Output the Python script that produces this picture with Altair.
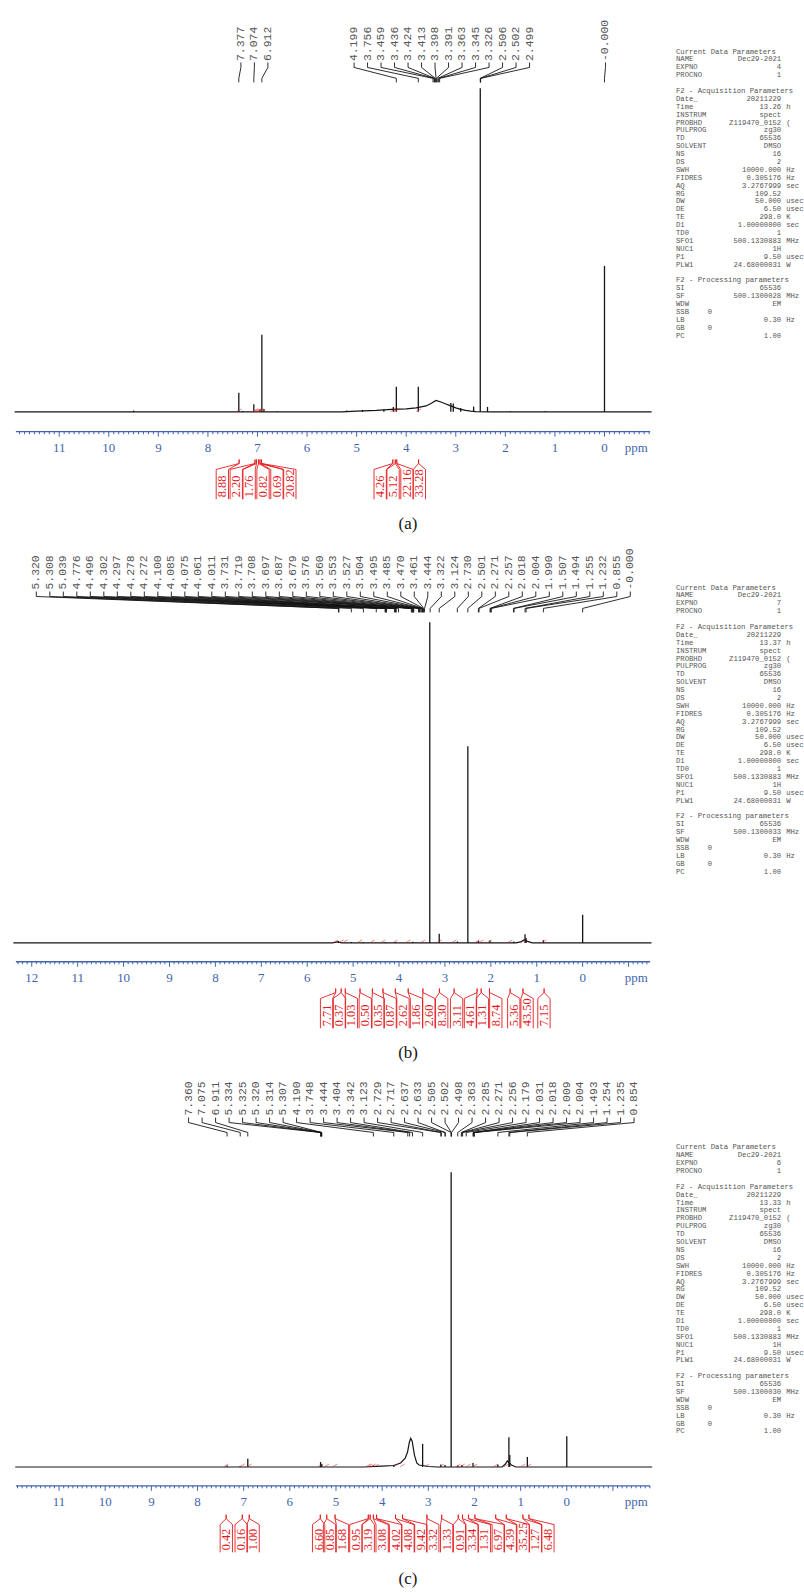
import math
import altair as alt
import pandas as pd

# ---------------------------------------------------------------------------
# Spectrum (a)
# ---------------------------------------------------------------------------
A_SHIFTS = ["7.377", "7.074", "6.912", "4.199", "3.756", "3.459", "3.436", "3.424",
            "3.413", "3.398", "3.391", "3.363", "3.345", "3.326", "2.506", "2.502",
            "2.499", "-0.000"]
A_PEAK_PPM = [9.50, 7.377, 7.30, 7.074, 6.95, 6.912, 6.87, 6.60, 5.20, 4.88, 4.45,
              4.26, 4.199, 3.756, 3.10, 3.05, 2.90, 2.64, 2.506, 2.36, 1.90, 1.20, 0.000]
A_PEAK_HEIGHT = [1.3, 19.3, 1.0, 7.7, 2.5, 77.7, 3.0, 1.0, 1.5, 2.0, 2.5,
                 5.0, 25.3, 25.3, 9.0, 8.5, 4.0, 5.3, 326.0, 5.0, 1.0, 1.0, 147.0]
A_BASE_PPM = [11.9, 5.3, 5.0, 4.6, 4.3, 4.0, 3.8, 3.6, 3.5, 3.4, 3.3, 3.2, 3.1,
              3.0, 2.9, 2.8, 2.7, 2.6, 2.3, -0.95]
A_BASE_HEIGHT = [0, 0, 0.8, 1.5, 2.5, 3.0, 4.0, 6.0, 8.5, 11.5, 10.0, 8.0, 6.0,
                 4.0, 2.5, 1.5, 0.8, 0.3, 0, 0]
A_INTEGRALS = ["8.88", "2.20", "1.76", "0.82", "0.69", "20.82", "4.26", "5.12",
               "22.16", "33.28"]
A_INTEGRAL_PPM = [7.37, 7.05, 7.02, 6.98, 6.95, 6.92, 4.27, 4.22, 4.19, 3.75]

# ---------------------------------------------------------------------------
# Spectrum (b)
# ---------------------------------------------------------------------------
B_SHIFTS = ["5.320", "5.308", "5.039", "4.776", "4.496", "4.302", "4.297", "4.278",
            "4.272", "4.100", "4.085", "4.075", "4.061", "4.011", "3.731", "3.719",
            "3.708", "3.697", "3.687", "3.679", "3.576", "3.560", "3.553", "3.527",
            "3.504", "3.495", "3.485", "3.470", "3.461", "3.444", "3.322", "3.124",
            "2.730", "2.501", "2.271", "2.257", "2.018", "2.004", "1.990", "1.507",
            "1.494", "1.255", "1.232", "0.855", "-0.000"]
B_PEAK_PPM = [5.32, 5.04, 4.78, 4.30, 4.08, 3.70, 3.33, 3.124, 2.73, 2.501, 2.27,
              2.02, 1.50, 1.255, 1.232, 0.855, 0.000]
B_PEAK_HEIGHT = [2.0, 0.8, 0.8, 1.0, 1.0, 1.2, 323.0, 9.3, 1.5, 198.0, 2.0,
                 2.5, 1.5, 8.7, 5.0, 2.7, 28.3]
B_BASE_PPM = [12.4, 5.45, 5.35, 5.25, 1.45, 1.35, 1.28, 1.2, 1.1, -1.5]
B_BASE_HEIGHT = [0, 0, 1.0, 0, 0, 1.0, 3.0, 1.5, 0, 0]
B_INTEGRALS = ["7.71", "0.37", "1.03", "0.50", "0.35", "0.87", "2.62", "1.86",
               "2.60", "8.30", "3.11", "4.61", "1.31", "8.74", "5.36", "43.50", "7.15"]
B_INTEGRAL_PPM = [5.38, 5.26, 5.17, 4.85, 4.58, 4.35, 4.08, 3.80, 3.48, 3.12,
                  2.80, 2.30, 2.21, 2.03, 1.58, 1.30, 0.84]

# ---------------------------------------------------------------------------
# Spectrum (c)
# ---------------------------------------------------------------------------
C_SHIFTS = ["7.360", "7.075", "6.911", "5.334", "5.325", "5.320", "5.314", "5.307",
            "4.190", "3.748", "3.444", "3.404", "3.342", "3.123", "2.729", "2.717",
            "2.637", "2.633", "2.505", "2.502", "2.498", "2.363", "2.285", "2.271",
            "2.256", "2.179", "2.031", "2.018", "2.009", "2.004", "1.493", "1.254",
            "1.235", "0.854"]
C_PEAK_PPM = [7.360, 7.075, 6.911, 5.334, 5.307, 4.190, 3.748, 3.123, 2.729, 2.637,
              2.505, 2.363, 2.271, 2.031, 1.493, 1.254, 1.235, 0.854, 0.000]
C_PEAK_HEIGHT = [1.5, 1.0, 8.3, 5.0, 3.0, 1.5, 2.0, 23.3, 2.5, 2.0,
                 297.0, 1.5, 2.0, 4.0, 2.5, 30.0, 12.0, 10.0, 31.0]
C_BASE_PPM = [11.95, 4.4, 4.0, 3.75, 3.6, 3.5, 3.45, 3.41, 3.38, 3.35, 3.3, 3.25,
              3.2, 3.0, 2.8, 1.4, 1.33, 1.29, 1.2, 1.1, -1.85]
C_BASE_HEIGHT = [0, 0, 0.8, 1.5, 4.0, 9.0, 15.0, 25.0, 29.0, 26.0, 12.0, 4.0,
                 2.0, 0.5, 0, 0, 3.0, 6.0, 2.0, 0, 0]
C_INTEGRALS = ["0.42", "0.16", "1.00", "6.60", "0.85", "1.68", "0.95", "3.19",
               "3.08", "4.02", "4.08", "9.42", "3.32", "1.33", "0.91", "3.34",
               "1.31", "6.97", "4.39", "35.25", "1.27", "6.48"]
C_INTEGRAL_PPM = [7.38, 7.03, 6.88, 5.34, 5.20, 5.02, 4.30, 4.26, 4.19, 4.12, 3.71,
                  3.56, 3.03, 2.71, 2.35, 2.26, 2.13, 1.99, 1.54, 1.31, 0.95, 0.82]

# Acquisition / processing parameter block (per experiment values differ)
PARAM_ROWS = [
    ("Current Data Parameters", "", "", ""),
    ("NAME", "", "Dec29-2021", ""),
    ("EXPNO", "", "{expno}", ""),
    ("PROCNO", "", "1", ""),
    None,
    ("F2 - Acquisition Parameters", "", "", ""),
    ("Date_", "", "20211229", ""),
    ("Time", "", "{time}", "h"),
    ("INSTRUM", "", "spect", ""),
    ("PROBHD", "", "Z119470_0152", "("),
    ("PULPROG", "", "zg30", ""),
    ("TD", "", "65536", ""),
    ("SOLVENT", "", "DMSO", ""),
    ("NS", "", "16", ""),
    ("DS", "", "2", ""),
    ("SWH", "", "10000.000", "Hz"),
    ("FIDRES", "", "0.305176", "Hz"),
    ("AQ", "", "3.2767999", "sec"),
    ("RG", "", "109.52", ""),
    ("DW", "", "50.000", "usec"),
    ("DE", "", "6.50", "usec"),
    ("TE", "", "298.0", "K"),
    ("D1", "", "1.00000000", "sec"),
    ("TD0", "", "1", ""),
    ("SFO1", "", "500.1330883", "MHz"),
    ("NUC1", "", "1H", ""),
    ("P1", "", "9.50", "usec"),
    ("PLW1", "", "24.68000031", "W"),
    None,
    ("F2 - Processing parameters", "", "", ""),
    ("SI", "", "65536", ""),
    ("SF", "", "{sf}", "MHz"),
    ("WDW", "", "EM", ""),
    ("SSB", "0", "", ""),
    ("LB", "", "0.30", "Hz"),
    ("GB", "0", "", ""),
    ("PC", "", "1.00", ""),
]

# ---------------------------------------------------------------------------
# Layout (page pixels)
# ---------------------------------------------------------------------------
BLUE = "#4165ad"
RED = "#e31a1c"
INK = "#141414"
GREY = "#555555"
SERIF = "Liberation Serif"
MONO = "Liberation Mono"

X0 = 11          # left edge of every plot area
W = 639          # plot-area width
STEP = 13.6      # spacing of stacked labels

PANELS = [
    dict(caption="(a)", zero_px=604.0, ppm_px=49.94, top=0, baseline=409, bottom=531,
         axis_y=429, shifts=A_SHIFTS, peak_ppm=A_PEAK_PPM, peak_h=A_PEAK_HEIGHT,
         base_ppm=A_BASE_PPM, base_h=A_BASE_HEIGHT, integrals=A_INTEGRALS,
         integral_ppm=A_INTEGRAL_PPM,
         label_groups=[(0, 237.7), (3, 351.7), (17, 605.0)],
         label_y=[55.5, 57, 62, 73, 77],
         int_slots=[219, 233, 246, 260, 274, 287, 378, 391, 405, 417.5],
         int_y=[457, 461, 467, 497, 495], cap_y=522,
         par_y=46, expno="4", time="13.26", sf="500.1300028"),
    dict(caption="(b)", zero_px=582.0, ppm_px=46.25, top=531, baseline=944, bottom=1066,
         axis_y=963, shifts=B_SHIFTS, peak_ppm=B_PEAK_PPM, peak_h=B_PEAK_HEIGHT,
         base_ppm=B_BASE_PPM, base_h=B_BASE_HEIGHT, integrals=B_INTEGRALS,
         integral_ppm=B_INTEGRAL_PPM,
         label_groups=[(0, 31.6)],
         label_y=[588, 590, 595, 607, 611],
         int_slots=[324, 337, 349, 363, 376, 388, 401, 414.6, 427, 440, 455, 469,
                    481, 494.5, 512.6, 526, 543],
         int_y=[990, 994, 1000, 1030, 1028], cap_y=1055,
         par_y=586, expno="7", time="13.37", sf="500.1300033"),
    dict(caption="(c)", zero_px=566.0, ppm_px=46.5, top=1066, baseline=1472, bottom=1592,
         axis_y=1491, shifts=C_SHIFTS, peak_ppm=C_PEAK_PPM, peak_h=C_PEAK_HEIGHT,
         base_ppm=C_BASE_PPM, base_h=C_BASE_HEIGHT, integrals=C_INTEGRALS,
         integral_ppm=C_INTEGRAL_PPM,
         label_groups=[(0, 185.0)],
         label_y=[1118, 1120, 1125, 1135, 1139],
         int_slots=[223, 238, 250, 316, 327, 340, 353.5, 366, 380, 393.5, 406, 419,
                    431, 445, 458, 470.5, 483, 497, 509, 522, 534.5, 547],
         int_y=[1520, 1524, 1530, 1558, 1556], cap_y=1585,
         par_y=1150, expno="6", time="13.33", sf="500.1300030"),
]


def build_panel(p):
    K, Z = p["ppm_px"], p["zero_px"]
    base = p["baseline"]

    def to_ppm(px):
        return (Z - px) / K

    def up(py):
        return base - py

    left, right = to_ppm(X0), to_ppm(X0 + W)
    xs = alt.Scale(domain=[left, right], nice=False, zero=False)
    ys = alt.Scale(domain=[up(p["bottom"]), up(p["top"])], nice=False, zero=False)
    height = p["bottom"] - p["top"]

    def X(field):
        return alt.X(field, type="quantitative", scale=xs, axis=None)

    def Y(field):
        return alt.Y(field, type="quantitative", scale=ys, axis=None)

    # ---- ppm scale bar: a tick every 0.1 ppm, integers longer and labelled
    ay = p["axis_y"]
    tick_rows = []
    for v in range(math.ceil(right * 10), math.floor(left * 10) + 1):
        major = v % 10 == 0
        tick_rows.append({"ppm": v / 10, "y0": up(ay), "y1": up(ay + (5 if major else 2.5)),
                          "label": str(v // 10) if major and v >= 0 else ""})
    tick_df = pd.DataFrame(tick_rows)
    ticks = alt.Chart(tick_df).mark_rule(color=BLUE, strokeWidth=1).encode(
        x=X("ppm"), y=Y("y0"), y2="y1:Q")
    tick_labels = alt.Chart(tick_df).transform_filter("datum.label != ''").transform_calculate(
        ly=f"{up(ay + 16)}").mark_text(
        font=SERIF, fontSize=13, color=BLUE, baseline="middle").encode(
        x=X("ppm"), y=Y("ly"), text="label:N")
    domain_line = alt.Chart(pd.DataFrame([{"a": left, "b": right, "y": up(ay)}])).mark_rule(
        color=BLUE, strokeWidth=1.3).encode(x=X("a"), x2="b:Q", y=Y("y"))
    unit_label = alt.Chart(pd.DataFrame([{"y": up(ay + 16), "t": "ppm"}])).mark_text(
        font=SERIF, fontSize=13, color=BLUE, baseline="middle").encode(
        x=alt.value(625), y=Y("y"), text="t:N")

    # ---- baseline with broad humps
    base_df = pd.DataFrame({"ppm": p["base_ppm"], "intensity": p["base_h"],
                            "k": range(len(p["base_ppm"]))})
    baseline = alt.Chart(base_df).mark_line(color=INK, strokeWidth=1.2).encode(
        x=X("ppm"), y=Y("intensity"), order="k:Q")

    # ---- sharp resonances
    peak_df = pd.DataFrame({"ppm": p["peak_ppm"], "y0": 0.0, "intensity": p["peak_h"]})
    peaks = alt.Chart(peak_df).mark_rule(color=INK, strokeWidth=1.3).encode(
        x=X("ppm"), y=Y("y0"), y2="intensity:Q")

    # ---- integral traces drawn just above the baseline
    trace_rows = []
    for j, anchor in enumerate(p["integral_ppm"]):
        for k, (dx, dy) in enumerate([(0.05, 0.3), (0.0, 1.6), (-0.05, 3.0)]):
            trace_rows.append({"id": j, "k": k, "ppm": anchor + dx, "y": dy})
    traces = alt.Chart(pd.DataFrame(trace_rows)).mark_line(
        color=RED, strokeWidth=0.9, opacity=0.6).encode(
        x=X("ppm"), y=Y("y"), detail="id:N", order="k:Q")

    # ---- chemical-shift labels along the top, with their leader lines
    ty, c0, c1, c2, c3 = p["label_y"]
    groups = p["label_groups"]
    lab_rows, lead_rows = [], []
    for i, lab in enumerate(p["shifts"]):
        g0, gpx = [g for g in groups if g[0] <= i][-1]
        slot = to_ppm(gpx + (i - g0) * STEP)
        peak = float(lab)
        lab_rows.append({"slot": slot, "y": up(ty), "text": lab})
        for k, (xv, yv) in enumerate([(slot, c0), (slot, c1), (peak, c2), (peak, c3)]):
            lead_rows.append({"id": i, "k": k, "ppm": xv, "y": up(yv)})
    shift_text = alt.Chart(pd.DataFrame(lab_rows)).mark_text(
        angle=270, align="left", baseline="middle", font=MONO, fontSize=11.5,
        color=GREY).encode(x=X("slot"), y=Y("y"), text="text:N")
    leaders = alt.Chart(pd.DataFrame(lead_rows)).mark_line(
        color=INK, strokeWidth=0.9).encode(x=X("ppm"), y=Y("y"), detail="id:N", order="k:Q")

    # ---- integral values under the scale, with red brackets
    i_top, i_v, i_d, i_bot, i_txt = p["int_y"]
    half = STEP / 2 - 0.6
    int_rows, brk_rows = [], []
    for j, (val, anchor, spx) in enumerate(zip(p["integrals"], p["integral_ppm"], p["int_slots"])):
        int_rows.append({"slot": to_ppm(spx), "y": up(i_txt), "text": val})
        for side, dx in enumerate((-half, half)):
            pts = [(anchor, i_top), (anchor, i_v), (to_ppm(spx + dx), i_d),
                   (to_ppm(spx + dx), i_bot)]
            for k, (xv, yv) in enumerate(pts):
                brk_rows.append({"id": f"{j}-{side}", "k": k, "ppm": xv, "y": up(yv)})
    int_text = alt.Chart(pd.DataFrame(int_rows)).mark_text(
        angle=270, align="left", baseline="middle", font=SERIF, fontSize=12.5,
        color=RED).encode(x=X("slot"), y=Y("y"), text="text:N")
    brackets = alt.Chart(pd.DataFrame(brk_rows)).mark_line(
        color=RED, strokeWidth=0.9).encode(x=X("ppm"), y=Y("y"), detail="id:N", order="k:Q")

    # ---- parameter block to the right
    par_rows = []
    for r, row in enumerate(PARAM_ROWS):
        if row is None:
            continue
        name, mid, value, unit = row
        value = value.format(expno=p["expno"], time=p["time"], sf=p["sf"])
        par_rows.append({"y": up(p["par_y"] + r * 7.95), "name": name, "mid": mid,
                         "value": value, "unit": unit})
    par_df = pd.DataFrame(par_rows)
    ptxt = dict(baseline="middle", font=MONO, fontSize=7.3, color=GREY)
    names = alt.Chart(par_df).mark_text(align="left", **ptxt).encode(
        x=alt.value(665), y=Y("y"), text="name:N")
    mids = alt.Chart(par_df).mark_text(align="left", **ptxt).encode(
        x=alt.value(697), y=Y("y"), text="mid:N")
    values = alt.Chart(par_df).mark_text(align="right", **ptxt).encode(
        x=alt.value(771), y=Y("y"), text="value:N")
    units = alt.Chart(par_df).mark_text(align="left", **ptxt).encode(
        x=alt.value(776), y=Y("y"), text="unit:N")

    caption = alt.Chart(pd.DataFrame([{"y": up(p["cap_y"]), "t": p["caption"]}])).mark_text(
        font=SERIF, fontSize=17, color=INK, baseline="middle").encode(
        x=alt.value(395), y=Y("y"), text="t:N")

    return alt.layer(domain_line, ticks, tick_labels, unit_label, baseline, peaks, traces,
                     leaders, shift_text, brackets, int_text, names, mids, values, units,
                     caption).properties(width=W, height=height)


chart = alt.vconcat(*[build_panel(p) for p in PANELS], spacing=0).properties(
    padding={"left": X0, "top": 0, "right": 0, "bottom": 0},
    background="white",
).configure_view(stroke=None)

chart.save("out.html", embed_options={"renderer": "svg", "actions": False})
